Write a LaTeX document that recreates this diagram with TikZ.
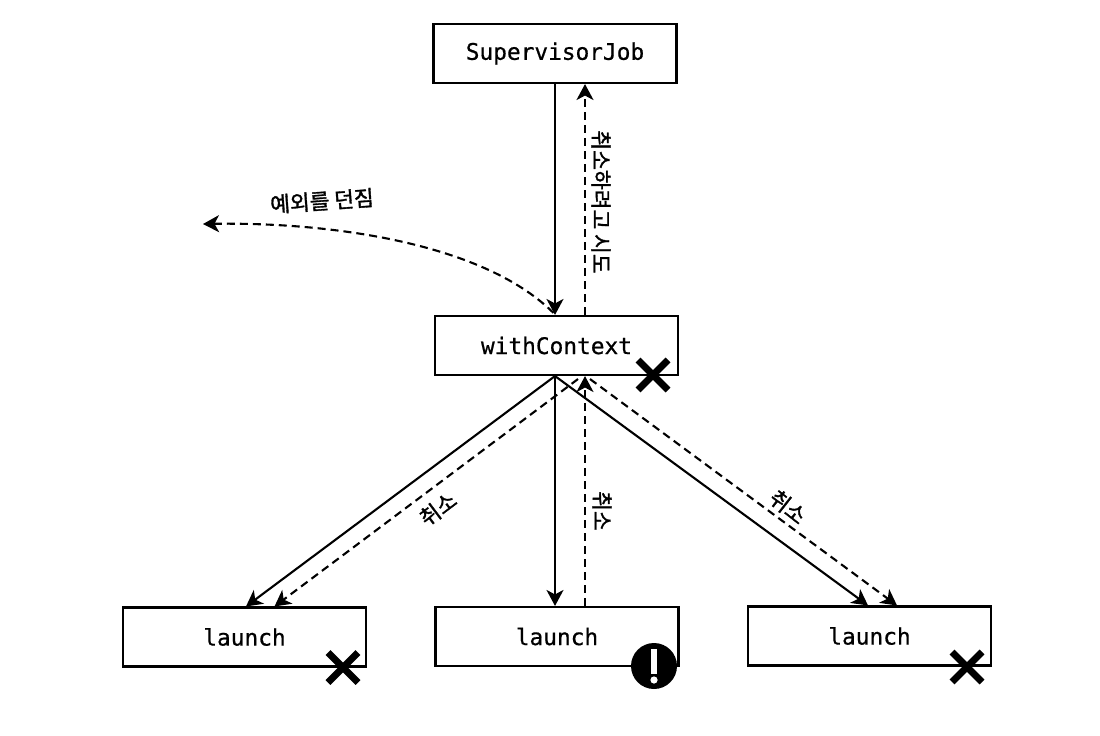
\documentclass[tikz,border=0pt]{standalone}
\usepackage{fontspec}
\setmainfont{DejaVu Sans Mono}[FakeBold=0.6]
\newfontfamily\krfont{Noto Sans CJK KR}[FakeBold=1.5]
\usetikzlibrary{arrows.meta}
\tikzset{
  box/.style={draw,line width=2.1pt,minimum width=243pt,minimum height=59pt,inner sep=0pt,font=\fontsize{22.8}{24}\selectfont},
  arr/.style={line width=2.1pt,-{Stealth[length=16pt,width=17pt,inset=4.5pt]}},
  dasharr/.style={arr,dash pattern=on 8pt off 5pt},
  lbl/.style={font=\krfont\fontsize{21.5}{23}\selectfont,inner sep=0pt},
  xmark/.style={line width=7pt},
}
\begin{document}
\begin{tikzpicture}[x=1pt,y=-1pt]
\useasboundingbox (0,0) rectangle (1100,736);
\node[box] (sup) at (555,53.5) {SupervisorJob};
\node[box] (ctx) at (556.5,345.5) {withContext};
\node[box] (l1) at (244.5,637) {launch};
\node[box] (l2) at (557,636.5) {launch};
\node[box] (l3) at (869.5,636) {launch};
% crosses and badge
\node[inner sep=0pt,minimum size=0pt] (xa) at (653,375) {};
\node[inner sep=0pt,minimum size=0pt] (xb) at (343,667.5) {};
\node[inner sep=0pt,minimum size=0pt] (xc) at (967,667) {};
\foreach \c in {xa,xb,xc}{
  \draw[xmark] ([shift={(-15,-15)}]\c.center) -- ([shift={(15,15)}]\c.center);
  \draw[xmark] ([shift={(-15,15)}]\c.center) -- ([shift={(15,-15)}]\c.center);
}
\node[circle,fill=black,minimum size=46pt,inner sep=0pt] (bad) at (654,666) {};
\fill[white] (651,649) rectangle (657,674);
\fill[white] (654,680) circle (3.6);
% connectors
\draw[arr] (sup.south) -- ([xshift=-1.5pt]ctx.north);
\draw[dasharr] ([xshift=28.5pt]ctx.north) -- ([xshift=30pt]sup.south);
\coordinate (thrown) at (203,224);
\draw[dasharr] ([xshift=-3pt,yshift=2pt]ctx.north) .. controls (480,240) and (320,222) .. (thrown);
\draw[arr] ([xshift=-1.5pt]ctx.south) -- ([xshift=1.5pt]l1.north);
\draw[arr] ([xshift=-1.5pt]ctx.south) -- ([xshift=-2pt]l2.north);
\draw[arr] ([xshift=-1.5pt]ctx.south) -- ([xshift=-1.5pt]l3.north);
\draw[dasharr] ([xshift=21.5pt,yshift=-3pt]ctx.south) -- ([xshift=30pt]l1.north);
\draw[dasharr] ([xshift=28pt]l2.north) -- ([xshift=28.5pt]ctx.south);
\draw[dasharr] ([xshift=33.5pt,yshift=-3pt]ctx.south) -- ([xshift=27.5pt]l3.north);
% labels
\node[lbl,rotate=-90] (t1) at (601,202) {취소하려고 시도};
\node[lbl,rotate=4] (t2) at (322,201) {예외를 던짐};
\node[lbl,rotate=37] (t3) at (438,509) {취소};
\node[lbl,rotate=-90] (t4) at (602,511) {취소};
\node[lbl,rotate=-38] (t5) at (788,507) {취소};
\end{tikzpicture}
\end{document}
